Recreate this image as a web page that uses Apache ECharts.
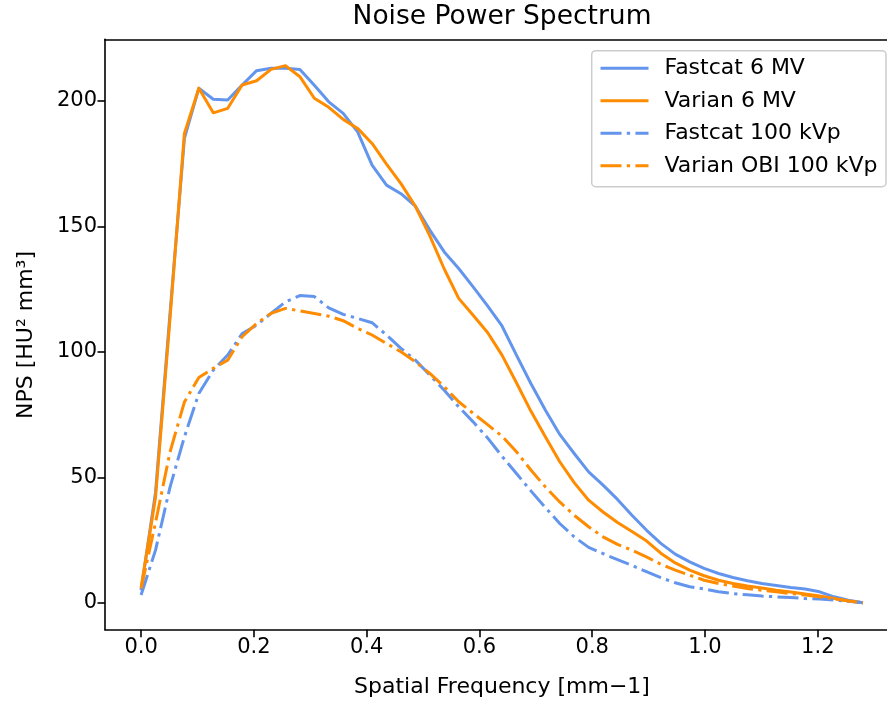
<!DOCTYPE html>
<html>
<head>
<meta charset="utf-8">
<script src="https://cdn.jsdelivr.net/npm/echarts@6/dist/echarts.min.js"></script>
<style>html,body{margin:0;padding:0;background:#fff;}#c{width:887px;height:701px;}</style>
</head>
<body>
<div id="c"></div>
<script>
// Spatial frequency samples [mm^-1]
var freq = [0, 0.0256, 0.0512, 0.0768, 0.1024, 0.128, 0.1536, 0.1792, 0.2048, 0.2304,
  0.256, 0.2816, 0.3072, 0.3328, 0.3584, 0.384, 0.4096, 0.4352, 0.4608, 0.4864,
  0.512, 0.5376, 0.5632, 0.5888, 0.6144, 0.64, 0.6656, 0.6912, 0.7168, 0.7424,
  0.768, 0.7936, 0.8192, 0.8448, 0.8704, 0.896, 0.9216, 0.9472, 0.9728, 0.9984,
  1.024, 1.0496, 1.0752, 1.1008, 1.1264, 1.152, 1.1776, 1.2032, 1.2288, 1.2544, 1.28];

var fastcat6MV = [5, 44, 115, 185, 205, 200.6, 200.3, 206.3, 212, 213,
  213, 212.5, 206.2, 199.6, 195, 187.6, 174.4, 166.4, 163, 158,
  148.5, 139.8, 133.2, 125.9, 118.3, 110.3, 98.7, 87.4, 76.8, 67.1,
  59.5, 52.2, 46.9, 41.2, 34.9, 29, 23.7, 19.4, 16.3, 13.7,
  11.7, 10.1, 8.8, 7.7, 6.9, 6.1, 5.5, 4.4, 2.4, 1.0, 0];

var varian6MV = [6, 42, 113, 187, 205, 195.2, 197, 206.3, 208, 212.5,
  214, 209.6, 201, 197.4, 192.6, 189, 183, 174.8, 167, 158,
  146.2, 133, 121.3, 114.6, 107.7, 98.7, 87.7, 76.4, 66.2, 56.2,
  47.9, 40.9, 36.2, 32, 28.4, 24.7, 19.8, 15.9, 13, 10.8,
  9, 7.7, 6.7, 5.9, 5, 4.3, 3.5, 2.7, 1.7, 0.7, 0];

var fastcat100kVp = [3.1, 21, 46, 66.1, 83.4, 92.7, 98.7, 107.3, 110.6, 115.3,
  119.9, 122.4, 122, 117.5, 114.9, 113.3, 111.6, 106.7, 101.4, 96.7,
  90.7, 84.7, 78.1, 72.1, 65.7, 58.4, 51.5, 44.6, 38, 31.6,
  26.3, 22.1, 19.6, 17.2, 14.9, 12.4, 10, 8, 6.4, 5.5,
  4.4, 3.7, 3.2, 2.7, 2.4, 2.1, 1.7, 1.5, 1.1, 0.6, 0];

var varianOBI100kVp = [5.7, 32, 60, 80, 89.8, 93.4, 96.7, 106, 111.3, 115.3,
  117.3, 116.3, 115.3, 114.2, 112.4, 109.3, 106.7, 103.3, 100, 96,
  91.4, 86.1, 80.1, 75.5, 71, 66.4, 60.2, 52.9, 46.2, 40.2,
  34.9, 30.3, 26.3, 23.3, 21, 18.3, 15.4, 13, 11, 9,
  7.7, 6.7, 5.7, 5, 4.4, 3.7, 3.1, 2.4, 1.6, 0.7, 0];

var xTicks = [0, 0.2, 0.4, 0.6, 0.8, 1.0, 1.2];
var yTicks = [0, 50, 100, 150, 200];

var seriesNames = ['Fastcat 6 MV', 'Varian 6 MV', 'Fastcat 100 kVp', 'Varian OBI 100 kVp'];
var seriesValues = [fastcat6MV, varian6MV, fastcat100kVp, varianOBI100kVp];
var seriesColors = ['#6495ED', '#FF8C00', '#6495ED', '#FF8C00'];
var dashDot = [21, 5.3, 3.3, 5.3];
var seriesTypes = ['solid', 'solid', dashDot, dashDot];

function pairs(vals) {
  return freq.map(function (f, i) { return [f, vals[i]]; });
}

var FONT = 'DejaVu Sans';
var chart = echarts.init(document.getElementById('c'), null, { renderer: 'canvas' });

var series = seriesNames.map(function (n, k) {
  return {
    name: n,
    type: 'line',
    data: pairs(seriesValues[k]),
    symbol: 'none',
    showSymbol: false,
    animation: false,
    clip: true,
    color: seriesColors[k],
    lineStyle: { color: seriesColors[k], width: 3, type: seriesTypes[k], cap: 'butt', join: 'round' },
    z: 2 + k * 0.1
  };
});

var spine = { show: true, onZero: false, lineStyle: { color: '#000', width: 1.6 } };

var option = {
  backgroundColor: '#ffffff',
  animation: false,
  grid: { left: 105, top: 39.3, right: 0, bottom: 71.3, show: false },
  xAxis: [{
    type: 'value', min: -0.064, max: 1.3227, position: 'bottom',
    axisLine: spine,
    splitLine: { show: false },
    axisTick: { show: true, length: 7.5, inside: false, lineStyle: { color: '#000', width: 1.6 }, customValues: xTicks },
    axisLabel: {
      show: true, customValues: xTicks, margin: 7,
      fontFamily: FONT, fontSize: 21, color: '#000',
      formatter: function (v) { return v.toFixed(1); }
    }
  }, {
    type: 'value', min: -0.064, max: 1.3227, position: 'top',
    axisLine: spine,
    splitLine: { show: false }, axisTick: { show: false }, axisLabel: { show: false }
  }],
  yAxis: {
    type: 'value', min: -10.7, max: 224.5, position: 'left',
    axisLine: spine,
    splitLine: { show: false },
    axisTick: { show: true, length: 7.5, inside: false, lineStyle: { color: '#000', width: 1.6 }, customValues: yTicks },
    axisLabel: {
      show: true, customValues: yTicks, margin: 8,
      fontFamily: FONT, fontSize: 21, color: '#000',
      formatter: function (v) { return String(v); }
    }
  },
  legend: {
    orient: 'vertical',
    left: 599, top: 57.3,
    padding: 0,
    itemWidth: 48, itemHeight: 22, itemGap: 10.5,
    data: seriesNames,
    textStyle: { fontFamily: FONT, fontSize: 22, color: '#000', lineHeight: 22, padding: [0, 0, 0, 11] },
    lineStyle: { width: 3 },
    itemStyle: { opacity: 0, borderWidth: 0 },
    selectedMode: false,
    z: 10
  },
  graphic: [
    {
      type: 'rect', z: 8,
      shape: { x: 591.7, y: 50.7, width: 294.3, height: 136, r: 4 },
      style: { fill: 'rgba(255,255,255,0.8)', stroke: '#cccccc', lineWidth: 1.5 }
    },
    {
      type: 'text', z: 10,
      x: 502, y: 17,
      style: { text: 'Noise Power Spectrum', fontFamily: FONT, fontSize: 26.5, fill: '#000', align: 'center', verticalAlign: 'middle' }
    },
    {
      type: 'text', z: 10,
      x: 502, y: 687,
      style: { text: 'Spatial Frequency [mm\u22121]', fontFamily: FONT, fontSize: 22, fill: '#000', align: 'center', verticalAlign: 'middle' }
    },
    {
      type: 'text', z: 10,
      x: 26, y: 335, rotation: Math.PI / 2,
      style: { text: 'NPS [HU\u00B2 mm\u00B3]', fontFamily: FONT, fontSize: 22, fill: '#000', align: 'center', verticalAlign: 'middle' }
    }
  ],
  series: series
};
chart.setOption(option);
</script>
</body>
</html>
